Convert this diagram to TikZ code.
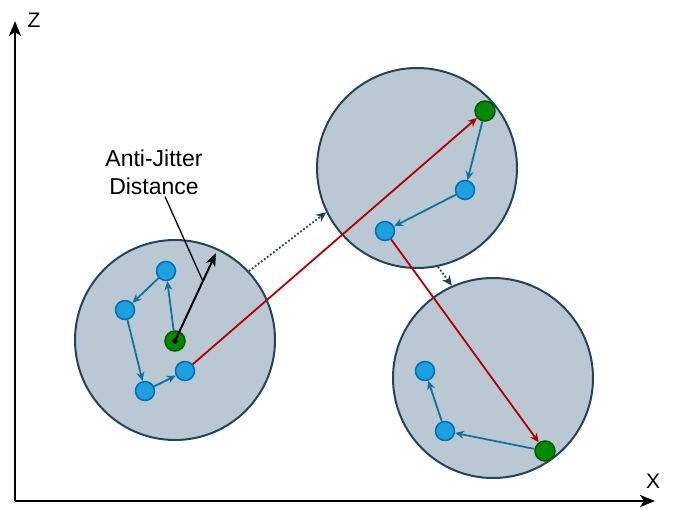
\documentclass[tikz,border=0pt]{standalone}
\usepackage{fontspec}
\setmainfont{Liberation Sans}
\usetikzlibrary{arrows.meta,calc}

\begin{document}
\begin{tikzpicture}[x=1pt,y=-1pt,
	cluster/.style={circle,draw=clusterline,fill=clusterfill,line width=2pt,minimum size=200pt,inner sep=0pt},
	pt/.style={circle,draw=ptline,fill=ptfill,line width=1.5pt,minimum size=19pt,inner sep=0pt},
	keypt/.style={circle,draw=keyline,fill=keyfill,line width=1.5pt,minimum size=20pt,inner sep=0pt},
	walk/.style={draw=walkcol,line width=1.8pt,-{Stealth[length=9pt,width=8pt,inset=3pt]}},
	jump/.style={draw=jumpcol,line width=1.8pt,-{Stealth[length=9pt,width=8pt,inset=3pt]}},
	drift/.style={draw=clusterline,line width=1.8pt,dotted,-{Stealth[length=10pt,width=9pt,inset=3pt]}},
	axis/.style={line width=2.2pt,-{Stealth[length=15pt,width=12pt,inset=4pt]}}]
\definecolor{clusterfill}{RGB}{186,200,211}
\definecolor{clusterline}{RGB}{35,68,93}
\definecolor{ptfill}{RGB}{27,161,226}
\definecolor{ptline}{RGB}{0,110,175}
\definecolor{keyfill}{RGB}{0,138,0}
\definecolor{keyline}{RGB}{0,87,0}
\definecolor{walkcol}{RGB}{16,115,158}
\definecolor{jumpcol}{RGB}{178,0,0}

	\useasboundingbox (0,0) rectangle (676,518);

	% axes
	\coordinate (o) at (15,501);
	\coordinate (zend) at (15,21);
	\coordinate (xend) at (655,501);
	\draw[axis] (o) -- (zend);
	\draw[axis] (o) -- (xend);
	\node[font=\fontsize{21}{25}\selectfont] (zlab) at (34,20) {Z};
	\node[font=\fontsize{21}{25}\selectfont] (xlab) at (653,481) {X};

	% clusters
	\node[cluster] (c1) at (175,340) {};
	\node[cluster] (c2) at (417,168) {};
	\node[cluster] (c3) at (493,378) {};

	\draw[drift] (c1.43) -- (c2.206);
	\draw[drift] (c2.282) -- (c3.114);

	% points in first cluster
	\node[keypt] (g1) at (175,341) {};
	\node[pt] (a1) at (166,271) {};
	\node[pt] (a2) at (125,310) {};
	\node[pt] (a3) at (145,391) {};
	\node[pt] (a4) at (185,371) {};
	\fill (g1) circle (2.8pt);
	\draw[walk] (g1) -- (a1);
	\draw[walk] (a1) -- (a2);
	\draw[walk] (a2) -- (a3);
	\draw[walk] (a3) -- (a4);

	% points in second cluster
	\node[keypt] (g2) at (485,111) {};
	\node[pt] (b1) at (465,190) {};
	\node[pt] (b2) at (385,231) {};
	\draw[walk] (g2) -- (b1);
	\draw[walk] (b1) -- (b2);

	% points in third cluster
	\node[keypt] (g3) at (545,451) {};
	\node[pt] (d1) at (445,431) {};
	\node[pt] (d2) at (425,371) {};
	\draw[walk] (g3) -- (d1);
	\draw[walk] (d1) -- (d2);

	\draw[jump] (a4) -- (g2);
	\draw[jump] (b2) -- (g3);

	% anti-jitter radius
	\coordinate (tip) at (216,253);
	\draw[line width=2pt,-{Stealth[length=13pt,width=10pt,inset=3.5pt]}] (g1.center) -- (tip);
	\coordinate (ajd) at ($(g1.center)!0.68!(tip)$);
	\node[font=\fontsize{23}{28}\selectfont,align=center,inner sep=2pt] (lab) at (154,172) {Anti-Jitter\\Distance};
	\draw[line width=1.3pt] (lab) -- (ajd);

\end{tikzpicture}
\end{document}
